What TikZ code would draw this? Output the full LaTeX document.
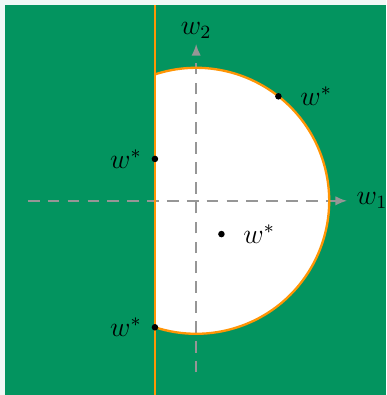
\documentclass[tikz,border=0pt]{standalone}
\usepackage{amsmath,amssymb}
\usepackage{tikz}
\usetikzlibrary{arrows.meta,positioning,calc}
\usepackage{xcolor}
\definecolor{Field}{HTML}{03945F}
\definecolor{Paper}{HTML}{F0F8F5}
\definecolor{Rim}{HTML}{FF9505}
\definecolor{Axis}{HTML}{969696}
\tikzset{
  axisline/.style={-{Latex[length=5pt,width=4pt]}, line width=0.8pt, color=Axis,
    dash pattern=on 5pt off 3.5pt},
  rimline/.style={line width=1pt, color=Rim},
  optdot/.style={circle, fill=black, inner sep=0pt, minimum size=2.8pt},
  optlabel/.style={font=\large},
}

\begin{document}
\begin{tikzpicture}
  \useasboundingbox (-2.95,-2.92) rectangle (2.86,3.02);
  \fill[Paper] (-2.95,-2.92) rectangle (2.86,3.02);
  \fill[Field] (-2.87,-2.92) rectangle (2.86,2.94);
  % feasible half disc
  \begin{scope}
    \clip (-0.62,-3) rectangle (3,3);
    \fill[white] (0,0) circle (2);
  \end{scope}
  % axes
  \coordinate (x0) at (-2.53,0);
  \coordinate (x1) at (2.27,0);
  \coordinate (y0) at (0,-2.58);
  \coordinate (y1) at (0,2.36);
  \draw[axisline] (x0) -- (x1);
  \draw[axisline] (y0) -- (y1);
  \node[optlabel, right=0.02cm of x1] (lw1) {$w_1$};
  \node[optlabel, above=-0.05cm of y1] (lw2) {$w_2$};
  % boundary
  \coordinate (ctop) at (-0.62,1.9015);
  \coordinate (lt) at (-0.62,2.94);
  \coordinate (lb) at (-0.62,-2.92);
  \draw[rimline] (ctop) arc[start angle=108.06, end angle=-108.06, radius=2];
  \draw[rimline] (lt) -- (lb);
  % minimisers
  \node[optdot] (parc) at (51.8:2) {};
  \node[optdot] (pline) at (-0.62,0.63) {};
  \node[optdot] (pin) at (0.38,-0.50) {};
  \node[optdot] (pcorner) at (-0.62,-1.9015) {};
  \node[optlabel, right=0.15cm of parc] (larc) {$w^*$};
  \node[optlabel, left=0.02cm of pline] (lline) {$w^*$};
  \node[optlabel, right=0.15cm of pin] (lin) {$w^*$};
  \node[optlabel, left=0.02cm of pcorner] (lcorner) {$w^*$};
\end{tikzpicture}
\end{document}
